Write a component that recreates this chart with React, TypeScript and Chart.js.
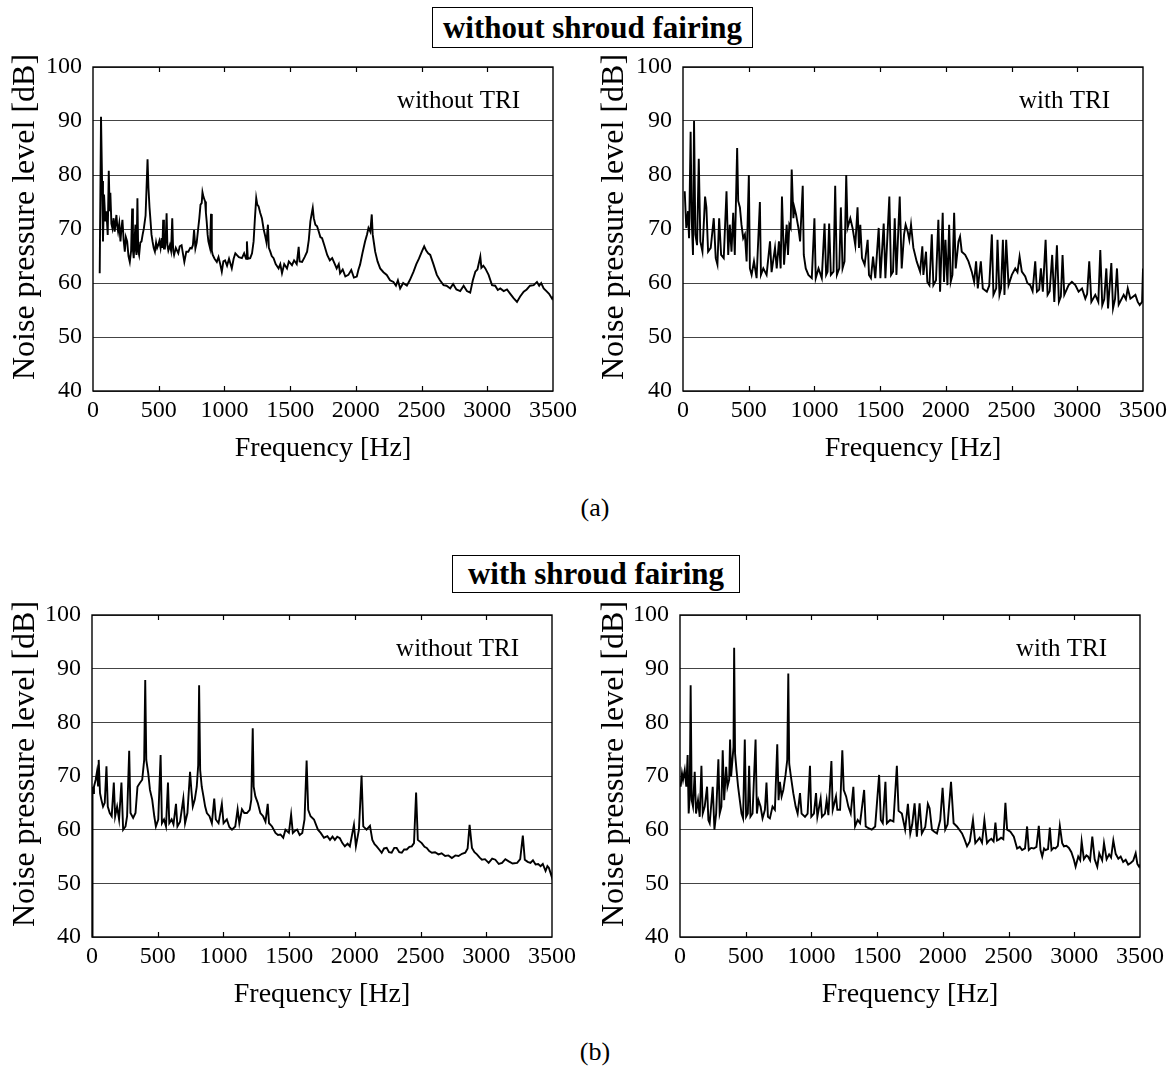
import React, { useEffect, useRef } from "react";
import { Chart, registerables } from "chart.js";

Chart.register(...registerables);

const FONT = '"Liberation Serif", "Times New Roman", Times, serif';

// Axis tick values
const FREQ_TICKS = [0, 500, 1000, 1500, 2000, 2500, 3000, 3500];
const LEVEL_TICKS = [40, 50, 60, 70, 80, 90, 100];

// Panel texts
const GROUP_TITLES = ["without shroud fairing", "with shroud fairing"];
const PANEL_LABELS = ["without TRI", "with TRI", "without TRI", "with TRI"];
const SUB_CAPTIONS = ["(a)", "(b)"];
const X_TITLE = "Frequency [Hz]";
const Y_TITLE = "Noise pressure level [dB]";

// [frequency Hz, level dB]
const NO_SHROUD_NO_TRI = [
  [51,61.8],[61,90.8],[69,78.9],[76,67.7],[84,76.4],[94,71.4],[102,73.3],[112,68.9],[120,80.8],[127,73.3],[132,76.7],[140,71],[148,70.1],[157,72],[165,69.5],[178,72.6],[185,70.5],[191,69.5],[200,71],[209,67.7],[216,70],[224,71.7],[233,68],[242,65.8],[250,68.5],[260,67.7],[270,65],[280,63.9],[290,66],[298,73.8],[304,66],[310,64.6],[316,68],[323,70.8],[327,66],[331,65.2],[338,75.7],[344,66],[351,65.2],[360,67.5],[369,67.7],[378,69],[387,70.1],[400,72.5],[415,82.9],[422,77.6],[430,74],[438,71.4],[445,69],[453,67.7],[462,66.5],[471,65.8],[480,67.5],[488,66.5],[496,67],[505,67.8],[514,66.5],[522,68.3],[528,66.5],[534,71.7],[540,66.4],[547,66.4],[553,68],[560,72.9],[566,67],[573,66],[585,67],[594,66],[603,72],[610,66],[617,65.2],[630,66.5],[649,65.5],[660,66.8],[674,67],[684,65.5],[695,63.9],[710,65.8],[725,65.8],[740,66.5],[751,66.4],[760,67],[769,69.8],[779,66.4],[789,67.5],[800,70],[809,72],[818,74.5],[827,74.8],[833,76.8],[840,76],[847,75.5],[853,75.1],[859,73],[865,71.4],[872,69],[878,67.7],[890,66.5],[898,72.8],[904,66],[911,65.2],[925,64.5],[942,63.9],[955,64.8],[968,63.5],[980,62.1],[992,64],[1005,64.2],[1020,63.2],[1035,64.5],[1056,62.7],[1070,64.5],[1083,65.5],[1094,65.2],[1110,64.8],[1133,64.6],[1150,65.5],[1165,64.5],[1171,67.7],[1178,64.5],[1196,64.6],[1210,65.5],[1222,67.7],[1232,72],[1242,75.7],[1250,74.5],[1260,74.2],[1272,73],[1285,72],[1298,70],[1311,68.6],[1320,67.5],[1331,70.8],[1338,66.5],[1349,65.8],[1360,65],[1374,64.6],[1390,63.5],[1412,62.7],[1425,63.5],[1438,61.8],[1455,63.5],[1476,62.7],[1490,64],[1514,63.3],[1530,64.2],[1550,63.5],[1565,66.7],[1572,64],[1591,63.9],[1610,64.8],[1629,65.8],[1642,68],[1654,71.4],[1665,73],[1672,73.9],[1680,72],[1692,70.8],[1705,70.5],[1718,69.5],[1730,68.5],[1743,68.3],[1760,67],[1782,65.2],[1802,64.2],[1820,64.6],[1840,63.5],[1854,62.7],[1870,63.5],[1880,61.8],[1900,62.5],[1920,61.2],[1943,61.5],[1965,62.4],[1985,61],[2007,61.2],[2020,62.5],[2032,63.4],[2050,65.5],[2070,67.7],[2085,69],[2096,70.2],[2110,69.5],[2121,72.7],[2128,69],[2137,67.5],[2147,65.8],[2165,64],[2185,62.7],[2210,62],[2235,61.5],[2260,60.5],[2286,60.2],[2305,59.5],[2320,60.5],[2337,59],[2360,60],[2388,59.5],[2410,60.5],[2439,62.1],[2460,63.5],[2480,64.5],[2502,65.8],[2520,66.8],[2535,66],[2550,65.5],[2566,65.2],[2590,63.5],[2616,61.5],[2640,60.5],[2667,59.6],[2690,59.5],[2718,59],[2740,59.8],[2765,58.8],[2794,58.5],[2820,59.5],[2845,58.5],[2870,58.2],[2890,60.5],[2909,62.1],[2925,62.5],[2947,64.9],[2955,62.8],[2970,63.2],[2985,62.7],[3010,61.5],[3036,59.6],[3060,59.5],[3080,58.7],[3099,59],[3125,58.5],[3150,58.8],[3175,58],[3200,57.2],[3226,56.5],[3250,57.5],[3277,58.4],[3300,58.8],[3325,59.5],[3353,59.6],[3378,60.2],[3395,59.5],[3410,60],[3429,59],[3450,58.5],[3470,58],[3493,57.1],[3500,57.5]
];

const NO_SHROUD_WITH_TRI = [
  [13,77],[25,70.2],[38,73.3],[46,68.3],[58,88],[66,72],[76,65.2],[84,90],[94,69],[107,67],[120,83],[132,67.7],[148,65.8],[168,76],[178,74],[191,65.8],[211,66.5],[234,72],[249,64.6],[262,63.4],[275,72],[290,65.2],[310,64.6],[331,77],[344,65.2],[356,70.8],[369,65.8],[382,73],[394,65.2],[412,85],[420,75.2],[433,74],[445,70.8],[458,68.3],[471,69],[484,64],[501,80],[509,62.7],[522,61.5],[540,64],[560,60.9],[585,75],[593,61.5],[611,62.7],[636,61.5],[662,67.7],[674,62],[700,66.5],[713,62.7],[730,67.7],[743,62.7],[753,76],[769,63.4],[789,70.8],[799,65.2],[809,70.8],[819,70.2],[827,81],[840,72],[847,74],[860,72.7],[878,70.2],[891,67.7],[911,78],[919,65.2],[934,62.7],[954,61.5],[980,60.9],[1000,72],[1010,60.9],[1031,62.7],[1056,60.9],[1077,71],[1089,61.5],[1100,62.1],[1112,71],[1125,61.5],[1145,62.1],[1158,78],[1171,61.5],[1189,62.7],[1201,74],[1214,62.7],[1229,64],[1242,80],[1252,70.2],[1273,72],[1290,70.2],[1311,67],[1328,74],[1339,66.5],[1349,70.8],[1362,64.6],[1382,63.4],[1405,68],[1415,61.5],[1430,60.9],[1446,64.9],[1463,60.9],[1489,70.2],[1502,60.9],[1527,71],[1540,60.9],[1570,76],[1583,61.5],[1598,62.1],[1611,72],[1624,61.5],[1649,76],[1664,62.7],[1682,69],[1694,70.8],[1710,69.5],[1722,68],[1735,70.8],[1753,66.5],[1778,64],[1804,62.1],[1821,66.8],[1829,61.5],[1849,65.8],[1859,60.2],[1875,59.6],[1893,69],[1905,59.6],[1925,60.5],[1943,71.7],[1956,58.4],[1976,73],[1986,60.2],[1997,68],[2012,59.6],[2025,70.8],[2037,60.2],[2050,61.5],[2063,73],[2075,62.7],[2096,67.7],[2108,68.6],[2121,65.8],[2147,65.2],[2172,64],[2197,62.1],[2215,60.2],[2230,64],[2243,59],[2266,64],[2281,59],[2312,58.4],[2330,59.5],[2350,69],[2362,57.8],[2383,59],[2393,68],[2408,57.8],[2420,59],[2434,68],[2446,57.8],[2459,68],[2477,59.6],[2502,61.5],[2528,62.7],[2545,62],[2561,64.9],[2578,62.1],[2604,61.2],[2620,60],[2642,59.6],[2660,58.5],[2680,64],[2693,58.4],[2710,58.8],[2723,62.7],[2738,58.4],[2759,68],[2774,57.8],[2790,58.5],[2809,65.2],[2825,56.5],[2845,67],[2860,56.5],[2875,57.5],[2888,65.2],[2901,57.8],[2934,59.6],[2959,60.2],[2985,59.6],[3010,58.4],[3036,59],[3061,57.1],[3075,58],[3091,64],[3107,56.5],[3137,57.8],[3160,56.5],[3175,66.1],[3190,55.9],[3205,57],[3221,62.7],[3234,55.3],[3259,63.7],[3272,55.3],[3287,57],[3302,62.7],[3315,56],[3353,57.8],[3370,57],[3384,59],[3404,57.1],[3442,57.8],[3460,56.5],[3475,55.9],[3493,56.5],[3500,62.7]
];

const SHROUD_NO_TRI = [
  [0,40],[3,56],[5,68],[8,66.8],[15,68],[28,69.3],[38,70.8],[46,68.2],[51,73],[61,66.8],[71,65.6],[84,64.3],[97,65],[110,71.8],[120,64.3],[135,63.1],[150,62.5],[166,68.8],[176,62.5],[191,64.3],[206,61.9],[224,68.8],[237,60],[255,60.6],[267,62.5],[283,74.7],[293,63.1],[313,62.2],[331,63.1],[346,68],[364,68.7],[382,69.3],[397,73],[405,87.9],[413,73],[428,70.5],[441,67.4],[458,65.6],[474,62.5],[486,60.6],[504,61.9],[522,73.9],[532,61.2],[548,61.9],[563,60.6],[578,68.8],[588,61.2],[606,61.9],[620,61],[639,64.8],[650,60.6],[670,61.5],[695,65.8],[708,61.2],[726,63.1],[746,70.8],[756,67.4],[767,64.3],[782,65.6],[797,68],[808,72],[815,86.9],[823,71.1],[835,68],[848,66.2],[861,64.3],[874,63.1],[894,62.5],[912,61.2],[930,65.8],[942,61.9],[963,61.2],[988,64.8],[1001,61.2],[1026,61.9],[1045,60.5],[1065,60],[1090,60.6],[1108,63.8],[1121,61.2],[1141,63.8],[1159,63.1],[1179,63.1],[1200,63.7],[1212,65.6],[1223,78.9],[1230,68],[1243,66.2],[1261,65],[1281,63.1],[1302,62.5],[1320,61.5],[1337,64.8],[1347,61.2],[1370,60.6],[1396,59.4],[1415,59],[1434,59.1],[1455,58.5],[1472,60],[1498,59.4],[1515,62.8],[1528,59.4],[1545,59.8],[1561,60],[1580,59],[1600,59.4],[1617,61.9],[1633,72.9],[1645,63.7],[1663,62.5],[1689,61.9],[1719,60],[1740,59.4],[1765,58.5],[1791,58.8],[1811,58.1],[1830,58.7],[1848,58.1],[1866,58.7],[1886,58.4],[1905,57.5],[1924,56.9],[1945,57.4],[1962,56.9],[1993,60.9],[2008,56.9],[2031,60],[2051,70.1],[2064,60.6],[2089,60],[2115,60.7],[2133,58.1],[2150,57.3],[2166,56.9],[2185,56.3],[2204,55.7],[2222,56.5],[2242,56.6],[2260,55.8],[2280,55.7],[2300,56.6],[2318,56.6],[2338,55.8],[2357,55.7],[2375,56.3],[2395,56.3],[2415,56.8],[2433,56.9],[2450,57.5],[2466,66.9],[2479,58.1],[2509,57.5],[2530,56.8],[2547,56.6],[2566,56],[2586,55.7],[2610,55.8],[2636,55.4],[2660,55.6],[2687,55.1],[2712,55.2],[2738,54.7],[2765,55.2],[2789,55.1],[2815,55.5],[2840,55.7],[2858,56.5],[2873,60.9],[2891,56.6],[2910,55.8],[2929,55.4],[2950,54.8],[2967,54.4],[2990,54.5],[3018,53.8],[3045,54.6],[3069,54.4],[3095,53.6],[3120,53.8],[3145,54.5],[3171,54.1],[3200,53.7],[3235,53.8],[3258,54.5],[3278,58.9],[3293,54.4],[3315,54],[3336,53.8],[3355,54.3],[3375,53.5],[3395,53.6],[3413,53.2],[3430,53.6],[3451,52.3],[3465,53.2],[3476,52.9],[3488,52],[3497,51.3],[3500,52]
];

const SHROUD_WITH_TRI = [
  [5,68],[15,70.5],[23,69.3],[36,71.1],[48,68],[58,73.9],[66,63],[74,66.2],[81,86.9],[89,65.5],[99,64.3],[112,70.8],[122,63],[137,65.5],[150,62.4],[163,71.9],[173,63],[188,64.3],[206,68],[216,61.8],[226,61.2],[249,68],[262,60],[275,63],[292,73.1],[302,63],[315,64.3],[325,74.8],[336,65.5],[351,71.7],[361,68],[374,69.3],[381,76.8],[389,69.9],[399,73],[407,75.4],[412,93.9],[419,74.2],[430,71.1],[442,68],[455,65.5],[468,63],[480,62.1],[493,76.8],[503,62.4],[516,63],[526,71.9],[536,62.4],[552,63],[575,76.8],[585,63],[597,65.5],[613,64.3],[628,62.1],[646,63.7],[658,68.8],[669,62.4],[684,62.1],[704,64.3],[722,63.7],[740,75.9],[750,65.5],[760,68.9],[773,66.2],[786,67.4],[803,70.2],[816,73],[824,89.1],[831,72.3],[844,69.9],[862,66.8],[880,64.3],[895,63],[913,66.8],[925,63],[951,62.4],[971,63],[989,71.9],[999,62.4],[1019,63],[1035,66.8],[1045,62.4],[1070,65.8],[1080,62.4],[1103,63],[1116,65.5],[1129,62.7],[1152,72.8],[1162,63.7],[1187,66.2],[1197,63.7],[1218,63.7],[1235,74.8],[1246,67.4],[1264,66.2],[1281,64.3],[1299,63],[1319,68],[1332,60.6],[1352,61.8],[1370,61.2],[1401,67.4],[1413,60.6],[1434,60.3],[1459,60],[1485,60.6],[1515,70.2],[1528,61.8],[1543,61.2],[1563,68.9],[1574,61.2],[1599,61.8],[1624,61.5],[1650,71.9],[1663,63.5],[1688,63],[1713,60],[1734,64.8],[1752,59.3],[1767,61],[1785,64.9],[1802,58.7],[1823,64.9],[1840,59.3],[1866,60.5],[1886,64.8],[1899,64],[1917,60],[1935,59.6],[1955,59.3],[1980,61.8],[1998,67.8],[2018,60],[2036,61],[2062,68.9],[2082,61.2],[2107,60.6],[2146,59.3],[2165,58.2],[2184,56.9],[2205,57.8],[2229,61.8],[2247,57.5],[2264,58],[2280,58.5],[2298,57.6],[2316,61.8],[2336,57.5],[2352,58],[2369,58.3],[2386,57.8],[2400,61.3],[2412,58],[2428,58.2],[2443,58.5],[2460,58.2],[2476,65],[2489,60],[2514,59.6],[2540,58.7],[2565,56.5],[2585,56.8],[2603,56.2],[2625,56.5],[2641,60.6],[2654,56.2],[2672,56.6],[2692,56.5],[2712,56.8],[2730,60.7],[2743,56.2],[2756,55],[2770,56.5],[2781,56.2],[2800,56.4],[2814,60.4],[2827,56.2],[2843,56.6],[2857,56.5],[2875,57],[2890,60.7],[2908,57.5],[2921,56.9],[2940,57],[2959,56.6],[2978,55.8],[2997,54.4],[3010,53.1],[3030,55],[3045,54.3],[3056,57.8],[3073,54.5],[3092,55.2],[3104,55],[3120,54.3],[3137,58.7],[3155,54.5],[3175,53.1],[3190,55.6],[3200,55],[3212,54.3],[3226,57.5],[3246,54.5],[3265,55.4],[3280,54.8],[3297,58],[3315,55.5],[3335,54.6],[3353,55],[3372,54],[3391,54.4],[3410,53.5],[3429,53.8],[3448,54.2],[3467,55.6],[3480,53.6],[3493,53.1],[3500,53.5]
];

type PanelProps = {
  series: number[][];
  label: string;
  area: [number, number, number, number]; // plot area left, top, right, bottom (page px)
  box: [number, number, number, number]; // canvas left, top, width, height (page px)
};

function Panel({ series, label, area, box }: PanelProps) {
  const ref = useRef<HTMLCanvasElement | null>(null);
  const [L, T, W, H] = box;

  useEffect(() => {
    const [x0, y0, x1, y1] = area;
    const yAxisWidth = x0 - L;
    const padTop = y0 - T;
    const padRight = L + W - x1;
    const xAxisHeight = T + H - y1;

    const framePlugin = {
      id: "frameAndLabel",
      afterDatasetsDraw(chart: any) {
        const { ctx, chartArea: a, scales } = chart;
        ctx.save();
        ctx.strokeStyle = "#000";
        ctx.lineWidth = 1.4;
        ctx.strokeRect(a.left, a.top, a.right - a.left, a.bottom - a.top);
        ctx.lineWidth = 1.2;
        scales.x.ticks.forEach((t: any) => {
          if (t.value <= scales.x.min || t.value >= scales.x.max) return;
          const px = Math.round(scales.x.getPixelForValue(t.value)) + 0.5;
          ctx.beginPath();
          ctx.moveTo(px, a.top);
          ctx.lineTo(px, a.top + 5);
          ctx.moveTo(px, a.bottom);
          ctx.lineTo(px, a.bottom - 5);
          ctx.stroke();
        });
        ctx.font = `25px ${FONT}`;
        ctx.fillStyle = "#000";
        ctx.textAlign = "right";
        ctx.textBaseline = "middle";
        ctx.fillText(label, a.right - 33, a.top + 34);
        ctx.restore();
      },
    };

    const chart = new Chart(ref.current as HTMLCanvasElement, {
      type: "line",
      data: {
        datasets: [
          {
            data: series.map(([x, y]) => ({ x, y })),
            borderColor: "#000",
            borderWidth: 1.9,
            pointRadius: 0,
            tension: 0,
            fill: false,
          },
        ],
      },
      options: {
        animation: false,
        responsive: false,
        maintainAspectRatio: false,
        layout: { padding: { left: 0, top: padTop, right: padRight, bottom: 0 } },
        plugins: { legend: { display: false }, tooltip: { enabled: false } },
        scales: {
          x: {
            type: "linear",
            min: FREQ_TICKS[0],
            max: FREQ_TICKS[FREQ_TICKS.length - 1],
            afterBuildTicks: (s: any) => {
              s.ticks = FREQ_TICKS.map((v) => ({ value: v }));
            },
            afterFit: (s: any) => {
              s.height = xAxisHeight;
            },
            grid: { display: false, drawTicks: false },
            border: { display: false },
            ticks: {
              font: { size: 24, family: FONT },
              color: "#000",
              padding: 5,
              maxRotation: 0,
              autoSkip: false,
              callback: (v: any) => String(v),
            },
            title: {
              display: true,
              text: X_TITLE,
              font: { size: 28, family: FONT },
              color: "#000",
              padding: { top: 0, bottom: 15 },
            },
          },
          y: {
            type: "linear",
            min: LEVEL_TICKS[0],
            max: LEVEL_TICKS[LEVEL_TICKS.length - 1],
            afterBuildTicks: (s: any) => {
              s.ticks = LEVEL_TICKS.map((v) => ({ value: v }));
            },
            afterFit: (s: any) => {
              s.width = yAxisWidth;
            },
            grid: { color: "#444", lineWidth: 1, drawTicks: false },
            border: { display: false },
            ticks: {
              font: { size: 24, family: FONT },
              color: "#000",
              padding: 11,
              callback: (v: any) => String(v),
            },
            title: {
              display: true,
              text: "   " + Y_TITLE,
              font: { size: 32, family: FONT },
              color: "#000",
              padding: { top: 6, bottom: 0 },
            },
          },
        },
      },
      plugins: [framePlugin],
    } as any);
    return () => chart.destroy();
  }, []);

  return (
    <canvas
      ref={ref}
      width={W}
      height={H}
      style={{ position: "absolute", left: L, top: T, width: W, height: H }}
    />
  );
}

const boxStyle: React.CSSProperties = {
  position: "absolute",
  border: "1.6px solid #000",
  boxSizing: "border-box",
  display: "flex",
  alignItems: "center",
  justifyContent: "center",
  fontWeight: "bold",
  fontSize: 31,
  fontFamily: FONT,
  color: "#000",
  background: "#fff",
};

const captionStyle: React.CSSProperties = {
  position: "absolute",
  left: 545,
  width: 100,
  textAlign: "center",
  fontSize: 26,
  lineHeight: "30px",
  fontFamily: FONT,
  color: "#000",
};

export default function App() {
  return (
    <div
      style={{
        position: "absolute",
        left: 0,
        top: 0,
        width: 1170,
        height: 1068,
        background: "#fff",
        overflow: "hidden",
      }}
    >
      <div style={{ ...boxStyle, left: 432, top: 7, width: 321, height: 41 }}>{GROUP_TITLES[0]}</div>
      <Panel series={NO_SHROUD_NO_TRI} label={PANEL_LABELS[0]} area={[93, 67, 553, 391]} box={[0, 41, 590, 439]} />
      <Panel series={NO_SHROUD_WITH_TRI} label={PANEL_LABELS[1]} area={[683, 67, 1143, 391]} box={[589, 41, 590, 439]} />
      <div style={{ ...captionStyle, top: 493 }}>{SUB_CAPTIONS[0]}</div>
      <div style={{ ...boxStyle, left: 452, top: 555, width: 288, height: 38 }}>{GROUP_TITLES[1]}</div>
      <Panel series={SHROUD_NO_TRI} label={PANEL_LABELS[2]} area={[92, 615, 552, 937]} box={[0, 589, 590, 437]} />
      <Panel series={SHROUD_WITH_TRI} label={PANEL_LABELS[3]} area={[680, 615, 1140, 937]} box={[589, 589, 590, 437]} />
      <div style={{ ...captionStyle, top: 1037 }}>{SUB_CAPTIONS[1]}</div>
    </div>
  );
}
